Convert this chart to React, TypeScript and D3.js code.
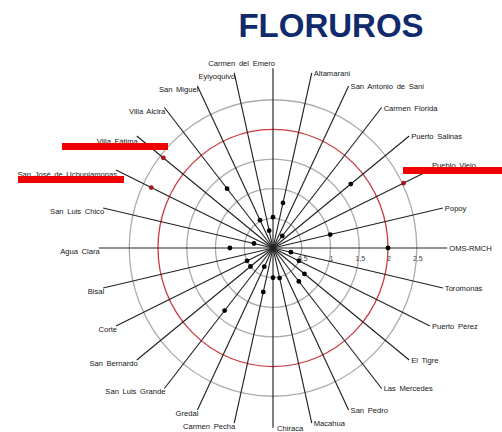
import React, { useEffect, useRef } from 'react';
import * as d3 from 'd3';

// Communities, clockwise from the top
const categories = [
  'Carmen del Emero', 'Altamarani', 'San Antonio de Sani', 'Carmen Florida', 'Puerto Salinas',
  'Pueblo Viejo', 'Popoy', 'OMS-RMCH', 'Toromonas', 'Puerto Pérez', 'El Tigre', 'Las Mercedes',
  'San Pedro', 'Macahua', 'Chiraca', 'Carmen Pecha', 'Gredal', 'San Luis Grande', 'San Bernardo',
  'Corte', 'Bisal', 'Agua Clara', 'San Luis Chico', 'San José de Uchupiamonas', 'Villa Fátima',
  'Villa Alcira', 'San Miguel', 'Eyiyoquivo'
];

// Fluoride concentration per community (null = no point visible)
const values = [
  0.52, 0.78, null, 0.26, 1.73,
  2.52, 1.02, 2.0, 0.32, 0.5, 0.7, 0.72,
  null, 0.52, 0.5, 0.76, 0.35, 1.35, 0.5,
  0.5, null, 0.75, 0.34, 2.35, 2.44,
  1.28, 0.52, 0.3
];

const ticks = [0.5, 1, 1.5, 2, 2.5];
const tickLabels = ['0,5', '1', '1,5', '2', '2,5'];
const limitValue = 2;

const highlighted = ['Villa Fátima', 'San José de Uchupiamonas', 'Pueblo Viejo'];

const W = 502;
const H = 432;
const font = 'Arial, "Liberation Sans", sans-serif';

const App = () => {
  const svgRef = useRef(null);

  useEffect(() => {
    const svg = d3.select(svgRef.current);
    svg.selectAll('*').remove();

    const cx = 273;
    const cy = 248;
    const rx = d3.scaleLinear().domain([0, 2.5]).range([0, 143.75]);
    const ry = d3.scaleLinear().domain([0, 2.5]).range([0, 148.25]);
    const spokeLen = 3.03;

    const angle = d3.scaleLinear().domain([0, categories.length]).range([0, 2 * Math.PI]);
    const px = (i, v) => cx + rx(v) * Math.sin(angle(i));
    const py = (i, v) => cy - ry(v) * Math.cos(angle(i));

    // red highlight bars under the communities above the limit
    const bars = {
      'Villa Fátima': { x0: 62, x1: 168, y: 143 },
      'San José de Uchupiamonas': { x0: 18, x1: 124, y: 176 },
      'Pueblo Viejo': { x0: 403, x1: W, y: 167 }
    };

    // title
    svg.append('text')
      .attr('x', 331)
      .attr('y', 37)
      .attr('text-anchor', 'middle')
      .attr('fill', '#102a6c')
      .style('font-family', font)
      .style('font-size', '33px')
      .style('font-weight', 'bold')
      .text('FLORUROS');

    // rings
    svg.append('g')
      .selectAll('ellipse')
      .data(ticks)
      .join('ellipse')
      .attr('cx', cx)
      .attr('cy', cy)
      .attr('rx', d => rx(d))
      .attr('ry', d => ry(d))
      .attr('fill', 'none')
      .attr('stroke', d => d === limitValue ? '#cc3a40' : '#ababab')
      .attr('stroke-width', 1.3);

    // spokes
    svg.append('g')
      .selectAll('line')
      .data(categories)
      .join('line')
      .attr('x1', cx)
      .attr('y1', cy)
      .attr('x2', (d, i) => px(i, spokeLen))
      .attr('y2', (d, i) => py(i, spokeLen))
      .attr('stroke', '#222')
      .attr('stroke-width', 1.15);

    // tick labels along the OMS-RMCH axis
    svg.append('g')
      .selectAll('text')
      .data(ticks)
      .join('text')
      .attr('x', d => cx + rx(d) + 1)
      .attr('y', cy + 13)
      .attr('text-anchor', 'middle')
      .attr('fill', '#444')
      .style('font-family', font)
      .style('font-size', '7px')
      .text((d, i) => tickLabels[i]);

    // category labels
    svg.append('g')
      .selectAll('text')
      .data(categories)
      .join('text')
      .each(function (d, i) {
        const a = angle(i);
        const s = Math.sin(a);
        const c = Math.cos(a);
        const ex = px(i, spokeLen);
        const ey = py(i, spokeLen);
        const t = d3.select(this);
        if (Math.abs(s) < 0.01) {
          if (c > 0) t.attr('x', ex + 2).attr('y', ey - 2).attr('text-anchor', 'end');
          else t.attr('x', ex + 4).attr('y', ey + 3).attr('text-anchor', 'start');
        } else if (s > 0) {
          t.attr('x', ex + 2).attr('y', ey + 3).attr('text-anchor', 'start');
        } else {
          t.attr('x', ex + 1).attr('y', ey + 6).attr('text-anchor', 'end');
        }
        if (bars[d]) t.attr('y', bars[d].y + 1);
      })
      .attr('fill', '#151515')
      .style('font-family', font)
      .style('font-size', '7.6px')
      .style('word-spacing', '1.5px')
      .text(d => d);

    // points
    const pts = values.map((v, i) => ({ v, i })).filter(d => d.v !== null);
    svg.append('g')
      .selectAll('circle')
      .data(pts)
      .join('circle')
      .attr('cx', d => px(d.i, d.v))
      .attr('cy', d => py(d.i, d.v))
      .attr('r', 2.4)
      .attr('fill', d => d.v > limitValue ? '#a8161c' : '#000');

    svg.append('g')
      .selectAll('rect')
      .data(highlighted)
      .join('rect')
      .attr('x', d => bars[d].x0)
      .attr('y', d => bars[d].y)
      .attr('width', d => bars[d].x1 - bars[d].x0)
      .attr('height', 7)
      .attr('fill', '#f00000');
  }, []);

  return (
    <div style={{ position: 'absolute', left: 0, top: 0, width: W, height: H, background: '#fff' }}>
      <svg ref={svgRef} width={W} height={H} style={{ display: 'block' }} />
    </div>
  );
};

export default App;
